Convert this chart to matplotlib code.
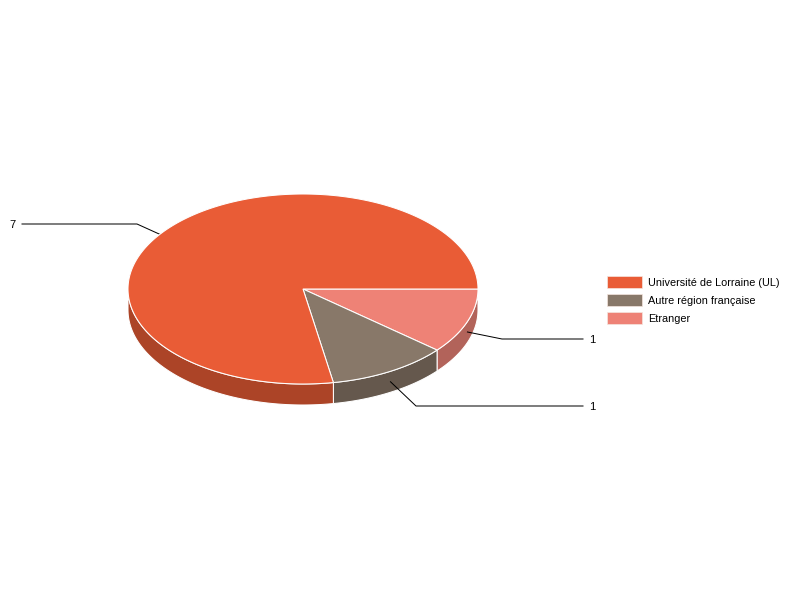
import numpy as np
import matplotlib
matplotlib.use("Agg")
import matplotlib.pyplot as plt
from matplotlib.patches import Polygon, Rectangle

plt.rcParams['font.family'] = ['Liberation Sans', 'DejaVu Sans']

# slices, clockwise from 3 o'clock
labels = ['Etranger', 'Autre région française', 'Université de Lorraine (UL)']
values = [1, 1, 7]
top_colors = ['#EE8276', '#887869', '#E95C36']
side_colors = ['#B2635A', '#65584D', '#AC4427']

# order in the legend
legend_labels = ['Université de Lorraine (UL)', 'Autre région française', 'Etranger']
legend_colors = ['#E95C36', '#887869', '#EE8276']

# label anchors: elbow x, label y
elbow_x = [502, 416, 137]
label_y = [339, 406, 224]
line_end_x = [583, 583, 22]

cx, cy = 303, 289
rx, ry = 175, 95
depth = 21


def ellipse_pts(a0, a1):
    t = np.radians(np.linspace(a0, a1, max(int(abs(a1 - a0)) * 2, 2)))
    return np.column_stack([cx + rx * np.cos(t), cy + ry * np.sin(t)])


fig = plt.figure(figsize=(8, 6), dpi=100)
ax = fig.add_axes([0, 0, 1, 1])
ax.set_xlim(0, 800)
ax.set_ylim(600, 0)
ax.axis('off')

angles = np.concatenate([[0], np.cumsum(values) / np.sum(values) * 360])

# side walls, only the front half shows
for i in range(len(values)):
    a0, a1 = angles[i], min(angles[i + 1], 180)
    if a0 >= 180:
        continue
    edge = ellipse_pts(a0, a1)
    wall = np.vstack([edge, (edge + [0, depth])[::-1]])
    ax.add_patch(Polygon(wall, closed=True, facecolor=side_colors[i],
                         edgecolor='white', linewidth=0.75, zorder=2))

# leader lines start on the wall, half way down, and go under the top
for i in range(len(values)):
    mid = np.radians((angles[i] + angles[i + 1]) / 2)
    sx = cx + rx * np.cos(mid)
    sy = cy + ry * np.sin(mid) + depth / 2
    ax.plot([sx, elbow_x[i], line_end_x[i]], [sy, label_y[i], label_y[i]],
            color='black', linewidth=0.72, zorder=3, solid_joinstyle='miter')
    if line_end_x[i] > cx:
        ax.text(line_end_x[i] + 6.5, label_y[i] + 0.7, str(values[i]), fontsize=8,
                ha='left', va='center', color='black')
    else:
        ax.text(line_end_x[i] - 6, label_y[i] + 0.7, str(values[i]), fontsize=8,
                ha='right', va='center', color='black')

# top faces
for i in range(len(values)):
    edge = ellipse_pts(angles[i], angles[i + 1])
    ax.add_patch(Polygon(np.vstack([[cx, cy], edge]), closed=True,
                         facecolor=top_colors[i], edgecolor='white',
                         linewidth=0.75, zorder=4))

# legend
for i, (name, col) in enumerate(zip(legend_labels, legend_colors)):
    y = 276 + i * 18
    ax.add_patch(Rectangle((607, y), 35, 12, facecolor=col,
                           edgecolor='#F5E6DF', linewidth=0.5, zorder=2))
    ax.text(648, y + 6.7, name, fontsize=7.85, ha='left', va='center', color='black')

fig.savefig('out.png', dpi=100)
